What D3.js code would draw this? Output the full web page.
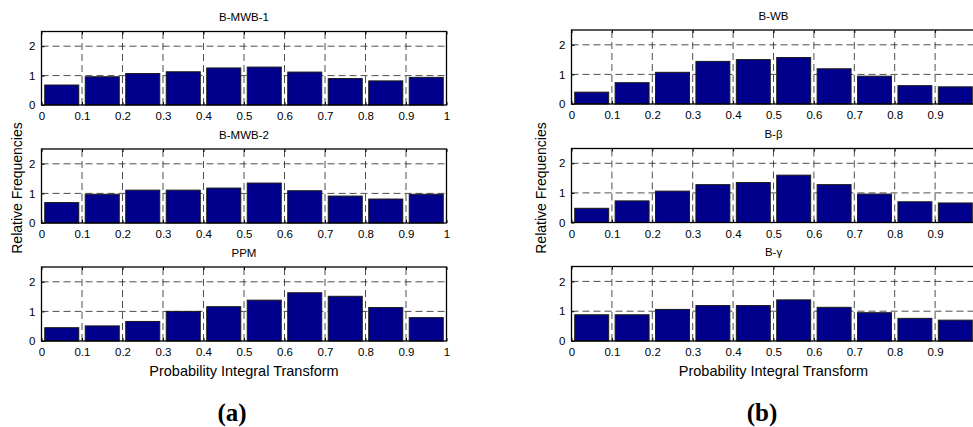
<!DOCTYPE html>
<html><head><meta charset="utf-8">
<script src="https://cdn.jsdelivr.net/npm/d3@7"></script>
<style>
body{margin:0;background:#fff}
svg{display:block}
text{font-family:"Liberation Sans",Arial,Helvetica,sans-serif;fill:#000}
</style>
</head><body>
<svg id="c" width="973" height="427"></svg>
<script>
// ---- data ----
const binStarts = [0, 0.1, 0.2, 0.3, 0.4, 0.5, 0.6, 0.7, 0.8, 0.9];
const xTickValues = [0, 0.1, 0.2, 0.3, 0.4, 0.5, 0.6, 0.7, 0.8, 0.9, 1];
const xTickLabels = ["0", "0.1", "0.2", "0.3", "0.4", "0.5", "0.6", "0.7", "0.8", "0.9", "1"];
const yTickValues = [0, 1, 2];
const yTickLabels = ["0", "1", "2"];
const titlesA = ["B-MWB-1", "B-MWB-2", "PPM"];
const titlesB = ["B-WB", "B-\u03B2", "B-\u03B3"];
const bMWB1 = [0.68, 0.96, 1.07, 1.13, 1.26, 1.29, 1.12, 0.90, 0.82, 0.94];
const bMWB2 = [0.69, 0.97, 1.11, 1.11, 1.18, 1.35, 1.09, 0.91, 0.81, 0.97];
const ppm   = [0.45, 0.51, 0.66, 1.00, 1.16, 1.38, 1.63, 1.51, 1.13, 0.79];
const bWB   = [0.40, 0.72, 1.07, 1.44, 1.50, 1.57, 1.19, 0.94, 0.62, 0.58];
const bBeta = [0.48, 0.73, 1.06, 1.28, 1.35, 1.60, 1.28, 0.96, 0.70, 0.66];
const bGamma= [0.88, 0.88, 1.06, 1.19, 1.19, 1.38, 1.13, 0.95, 0.76, 0.70];
const yLabel = "Relative Frequencies";
const xLabel = "Probability Integral Transform";
const panelLabels = ["(a)", "(b)"];

// ---- layout ----
const W = 973;
const svg = d3.select("#c");
const columns = [
  {x0: 41.5, x1: 446.5, tops: [31.5, 149, 267], bottoms: [105, 223, 341], titles: titlesA, data: [bMWB1, bMWB2, ppm], label: panelLabels[0], ylx: 22, plx: 232},
  {x0: 571.5, x1: 975.5, tops: [30, 148.5, 266.5], bottoms: [104, 222.5, 341], titles: titlesB, data: [bWB, bBeta, bGamma], label: panelLabels[1], ylx: 546, plx: 762}
];

columns.forEach(col => {
  const x = d3.scaleLinear().domain([0, 1]).range([col.x0, col.x1]);
  col.data.forEach((vals, r) => {
    const y = d3.scaleLinear().domain([0, 2.5]).range([col.bottoms[r], col.tops[r]]);
    const g = svg.append("g");
    // grid
    g.selectAll("line.gx").data(xTickValues.slice(1, -1)).enter().append("line")
      .attr("x1", d => x(d)).attr("x2", d => x(d))
      .attr("y1", y(0)).attr("y2", y(2.5))
      .attr("stroke", "#222").attr("stroke-width", 0.8).attr("stroke-dasharray", "7,4");
    g.selectAll("line.gy").data(yTickValues.slice(1)).enter().append("line")
      .attr("x1", x(0)).attr("x2", x(1))
      .attr("y1", d => y(d)).attr("y2", d => y(d))
      .attr("stroke", "#222").attr("stroke-width", 0.8).attr("stroke-dasharray", "7,4");
    // bars
    const bw = 0.084;
    g.selectAll("rect.bar").data(vals).enter().append("rect")
      .attr("x", (d, i) => x(binStarts[i] + 0.05 - bw / 2))
      .attr("width", x(bw) - x(0))
      .attr("y", d => y(d))
      .attr("height", d => y(0) - y(d))
      .attr("fill", "#00008C").attr("stroke", "#1a1a1a").attr("stroke-width", 1);
    // axes
    const xa = d3.axisBottom(x).tickValues(xTickValues)
      .tickFormat((d, i) => (x(d) + 4 > W ? "" : xTickLabels[i]))
      .tickSizeInner(-3).tickSizeOuter(0).tickPadding(7);
    const ya = d3.axisLeft(y).tickValues(yTickValues).tickFormat((d, i) => yTickLabels[i]).tickSizeInner(-3).tickSizeOuter(0).tickPadding(6);
    const gx = g.append("g").attr("transform", `translate(0,${y(0)})`).call(xa);
    const gy = g.append("g").attr("transform", `translate(${x(0)},0)`).call(ya);
    [gx, gy].forEach(a => {
      a.select(".domain").remove();
      a.selectAll("line").attr("stroke", "#000");
      a.selectAll("text").style("font-size", "11.5px").style("font-family", '"Liberation Sans",Arial,sans-serif');
    });
    // top ticks
    g.append("g").attr("transform", `translate(0,${y(2.5)})`)
      .call(d3.axisTop(x).tickValues(xTickValues).tickSizeInner(-3).tickSizeOuter(0).tickFormat(""))
      .call(a => { a.select(".domain").remove(); a.selectAll("line").attr("stroke", "#000"); });
    // box
    g.append("rect").attr("x", x(0)).attr("y", y(2.5))
      .attr("width", x(1) - x(0)).attr("height", y(0) - y(2.5))
      .attr("fill", "none").attr("stroke", "#000").attr("stroke-width", 1.3);
    // title
    g.append("text").attr("x", (x(0) + x(1)) / 2).attr("y", col.tops[r] - 10.5)
      .attr("text-anchor", "middle").style("font-size", "11.5px").text(col.titles[r]);
  });
  // x label
  svg.append("text").attr("x", (x(0) + x(1)) / 2).attr("y", 376)
    .attr("text-anchor", "middle").style("font-size", "14.5px").text(xLabel);
  // y label
  svg.append("text").attr("transform", `translate(${col.ylx},188) rotate(-90)`)
    .attr("text-anchor", "middle").style("font-size", "14px").text(yLabel);
  // panel label
  svg.append("text").attr("x", col.plx).attr("y", 421)
    .attr("text-anchor", "middle")
    .style("font-family", '"Liberation Serif","Times New Roman",serif')
    .style("font-weight", "bold").style("font-size", "25px").text(col.label);
});
</script>
</body></html>
